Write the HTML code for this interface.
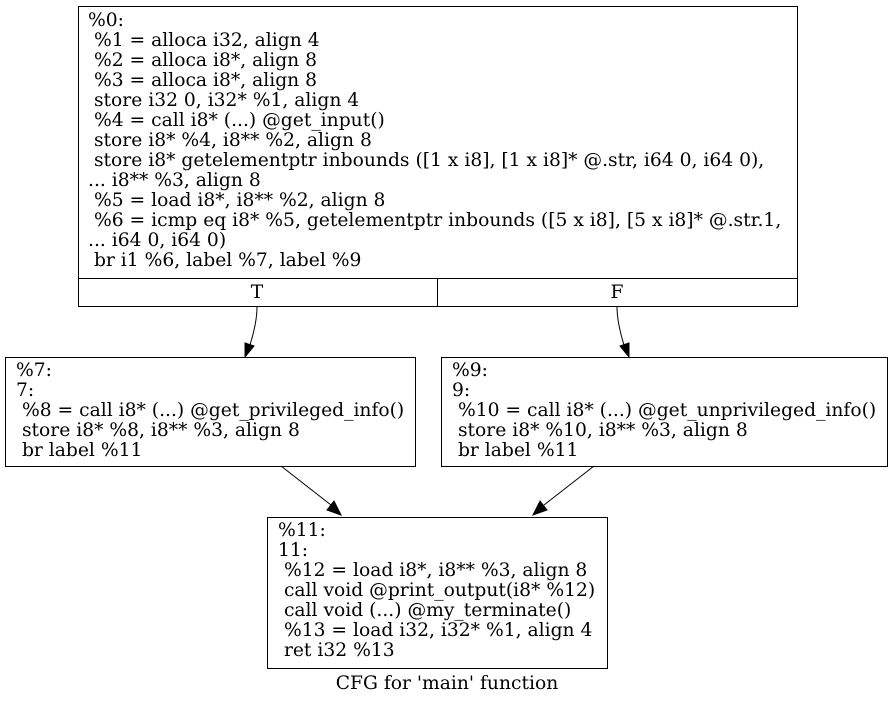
<!DOCTYPE html>
<html><head><meta charset="utf-8"><style>
html,body{margin:0;padding:0;background:#fff;}
svg text{font-family:"DejaVu Serif","Liberation Serif",serif;font-size:18.7px;fill:#000;white-space:pre;}
</style></head><body>
<svg width="893" height="704" viewBox="0 0 893 704" xmlns="http://www.w3.org/2000/svg">
<g fill="none" stroke="#000" stroke-width="1">
<rect x="78.5" y="6.5" width="719" height="300"/>
<line x1="78.5" y1="278.5" x2="797.5" y2="278.5"/>
<line x1="437.5" y1="278.5" x2="437.5" y2="306.5"/>
<rect x="5.5" y="357.5" width="410" height="109"/>
<rect x="441.5" y="357.5" width="446" height="109"/>
<rect x="267.5" y="517.5" width="340" height="151"/>
<path d="M257,307 C257,320 254,332 250,345"/>
<path d="M617,307 C617,320 620,332 624,345"/>
<path d="M281,466 L331,505"/>
<path d="M594,466 L544,505"/>
</g>
<g fill="#000" stroke="#000">
<polygon points="245,357 245,343 254,346"/>
<polygon points="629,357 620,346 629,343"/>
<polygon points="341,515 327,510 334,501"/>
<polygon points="533,515 540,501 547,510"/>
</g>
<text x="88" y="26">%0:</text>
<text x="88" y="46"> %1 = alloca i32, align 4</text>
<text x="88" y="66"> %2 = alloca i8*, align 8</text>
<text x="88" y="86"> %3 = alloca i8*, align 8</text>
<text x="88" y="106"> store i32 0, i32* %1, align 4</text>
<text x="88" y="126"> %4 = call i8* (...) @get_input()</text>
<text x="88" y="146"> store i8* %4, i8** %2, align 8</text>
<text x="88" y="166"> store i8* getelementptr inbounds ([1 x i8], [1 x i8]* @.str, i64 0, i64 0),</text>
<text x="88" y="186">... i8** %3, align 8</text>
<text x="88" y="206"> %5 = load i8*, i8** %2, align 8</text>
<text x="88" y="226"> %6 = icmp eq i8* %5, getelementptr inbounds ([5 x i8], [5 x i8]* @.str.1,</text>
<text x="88" y="246">... i64 0, i64 0)</text>
<text x="88" y="266"> br i1 %6, label %7, label %9</text>
<text x="257" y="298" text-anchor="middle">T</text>
<text x="617" y="298" text-anchor="middle">F</text>
<text x="16" y="376">%7:</text>
<text x="16" y="396">7:</text>
<text x="16" y="416"> %8 = call i8* (...) @get_privileged_info()</text>
<text x="16" y="436"> store i8* %8, i8** %3, align 8</text>
<text x="16" y="456"> br label %11</text>
<text x="452" y="376">%9:</text>
<text x="452" y="396">9:</text>
<text x="452" y="416"> %10 = call i8* (...) @get_unprivileged_info()</text>
<text x="452" y="436"> store i8* %10, i8** %3, align 8</text>
<text x="452" y="456"> br label %11</text>
<text x="278" y="536">%11:</text>
<text x="278" y="556">11:</text>
<text x="278" y="576"> %12 = load i8*, i8** %3, align 8</text>
<text x="278" y="596"> call void @print_output(i8* %12)</text>
<text x="278" y="616"> call void (...) @my_terminate()</text>
<text x="278" y="636"> %13 = load i32, i32* %1, align 4</text>
<text x="278" y="656"> ret i32 %13</text>
<text x="447" y="689" text-anchor="middle">CFG for 'main' function</text>
</svg>
</body></html>
